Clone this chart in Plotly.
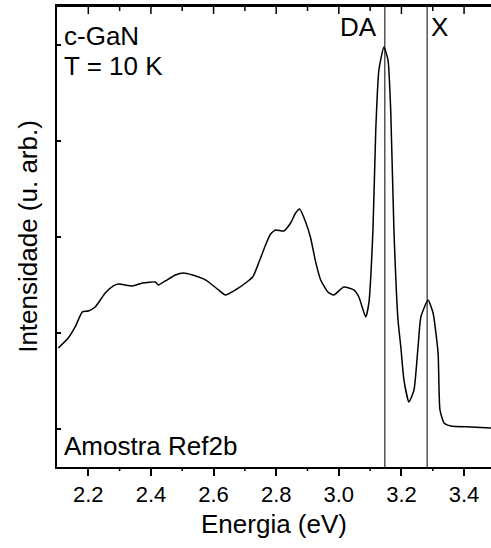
import plotly.graph_objects as go

# Photoluminescence spectrum (arbitrary units)
energia = [2.104, 2.136, 2.158, 2.181, 2.200, 2.222, 2.254, 2.280, 2.296, 2.341,
           2.373, 2.414, 2.424, 2.446, 2.478, 2.504, 2.533, 2.568, 2.584, 2.616,
           2.638, 2.680, 2.725, 2.744, 2.766, 2.782, 2.798, 2.824, 2.846, 2.862,
           2.875, 2.894, 2.910, 2.926, 2.942, 2.965, 2.984, 3.016, 3.048, 3.064,
           3.086, 3.096, 3.109, 3.118, 3.128, 3.144, 3.157, 3.166, 3.176, 3.189,
           3.198, 3.208, 3.224, 3.240, 3.253, 3.262, 3.285, 3.301, 3.317, 3.323,
           3.336, 3.358, 3.422, 3.486]
intensidade = [0.844, 0.948, 1.063, 1.219, 1.229, 1.271, 1.417, 1.490, 1.510, 1.490,
               1.521, 1.531, 1.500, 1.542, 1.604, 1.625, 1.604, 1.563, 1.531, 1.448,
               1.396, 1.469, 1.583, 1.729, 1.917, 2.031, 2.073, 2.063, 2.146, 2.250,
               2.292, 2.156, 1.990, 1.740, 1.552, 1.427, 1.396, 1.479, 1.448, 1.375,
               1.167, 1.313, 2.073, 3.115, 3.740, 3.979, 3.844, 3.292, 2.073, 1.135,
               0.854, 0.510, 0.281, 0.406, 0.854, 1.167, 1.344, 1.208, 0.792, 0.198,
               0.063, 0.031, 0.021, 0.010]

# Marker lines for the transitions
linhas_energia = [3.147, 3.282]
linhas_rotulo = ["DA", "X"]
rotulo_energia = [3.064, 3.323]

x_range = [2.1, 3.486]
x_tickvals = [2.2, 2.4, 2.6, 2.8, 3.0, 3.2, 3.4]
x_ticktext = ["2.2", "2.4", "2.6", "2.8", "3.0", "3.2", "3.4"]
x_minorvals = [2.3, 2.5, 2.7, 2.9, 3.1, 3.3]
y_range = [-0.396, 4.406]
y_tickvals = [0, 1, 2, 3, 4]

FONT = "Liberation Sans, Arial, sans-serif"
PLOT_H = 548 - 6 - 81

fig = go.Figure()
fig.add_trace(go.Scatter(x=energia, y=intensidade, mode="lines",
                         line=dict(color="black", width=1.5, shape="spline", smoothing=0.5),
                         showlegend=False, hoverinfo="skip"))

for e in linhas_energia:
    fig.add_shape(type="line", x0=e, x1=e, xref="x", y0=0, y1=1, yref="paper",
                  line=dict(color="black", width=1))

# top frame with inward ticks, bottom minor ticks
fig.add_shape(type="line", xref="paper", yref="paper", x0=0, x1=1, y0=1, y1=1,
              line=dict(color="black", width=2))
for v in x_tickvals:
    fig.add_shape(type="line", x0=v, x1=v, xref="x", y0=1, y1=1 - 8 / PLOT_H, yref="paper",
                  line=dict(color="black", width=1.5))
for v in x_minorvals:
    fig.add_shape(type="line", x0=v, x1=v, xref="x", y0=1, y1=1 - 5 / PLOT_H, yref="paper",
                  line=dict(color="black", width=1.5))
    fig.add_shape(type="line", x0=v, x1=v, xref="x", y0=0, y1=-4 / PLOT_H, yref="paper",
                  line=dict(color="black", width=1.5))

for e, t in zip(rotulo_energia, linhas_rotulo):
    fig.add_annotation(x=e, xref="x", y=0.955, yref="paper", text=t, showarrow=False,
                       font=dict(size=26, color="black", family=FONT),
                       xanchor="center", yanchor="middle")

fig.add_annotation(x=0.012, y=0.935, xref="paper", yref="paper", text="c-GaN",
                   showarrow=False, xanchor="left", yanchor="middle",
                   font=dict(size=26, color="black", family=FONT))
fig.add_annotation(x=0.012, y=0.870, xref="paper", yref="paper", text="T = 10 K",
                   showarrow=False, xanchor="left", yanchor="middle",
                   font=dict(size=26, color="black", family=FONT))
fig.add_annotation(x=0.012, y=0.046, xref="paper", yref="paper", text="Amostra Ref2b",
                   showarrow=False, xanchor="left", yanchor="middle",
                   font=dict(size=26, color="black", family=FONT))

fig.update_layout(
    width=491, height=548,
    margin=dict(l=57, r=0, t=6, b=81),
    plot_bgcolor="white",
    font=dict(family=FONT, color="black"),
    xaxis=dict(range=x_range, tickmode="array", tickvals=x_tickvals, ticktext=x_ticktext,
               ticks="outside", ticklen=7, tickwidth=1.5, tickcolor="black",
               showline=True, mirror=True, linewidth=2, linecolor="black", showgrid=False, zeroline=False,
               tickfont=dict(size=22, family=FONT, color="black"),
               title=dict(text="Energia (eV)", font=dict(size=26, family=FONT, color="black"), standoff=8)),
    yaxis=dict(range=y_range, tickmode="array", tickvals=y_tickvals, showticklabels=False,
               ticks="inside", ticklen=4, tickwidth=1.5, tickcolor="black",
               showline=True, linewidth=2, linecolor="black", showgrid=False, zeroline=False,
               title=dict(text="Intensidade (u. arb.)", font=dict(size=26, family=FONT, color="black"), standoff=10)),
)

fig.write_html("out.html", config={"displayModeBar": False},
               post_script="document.body.style.margin='0';document.body.style.overflow='hidden';")
